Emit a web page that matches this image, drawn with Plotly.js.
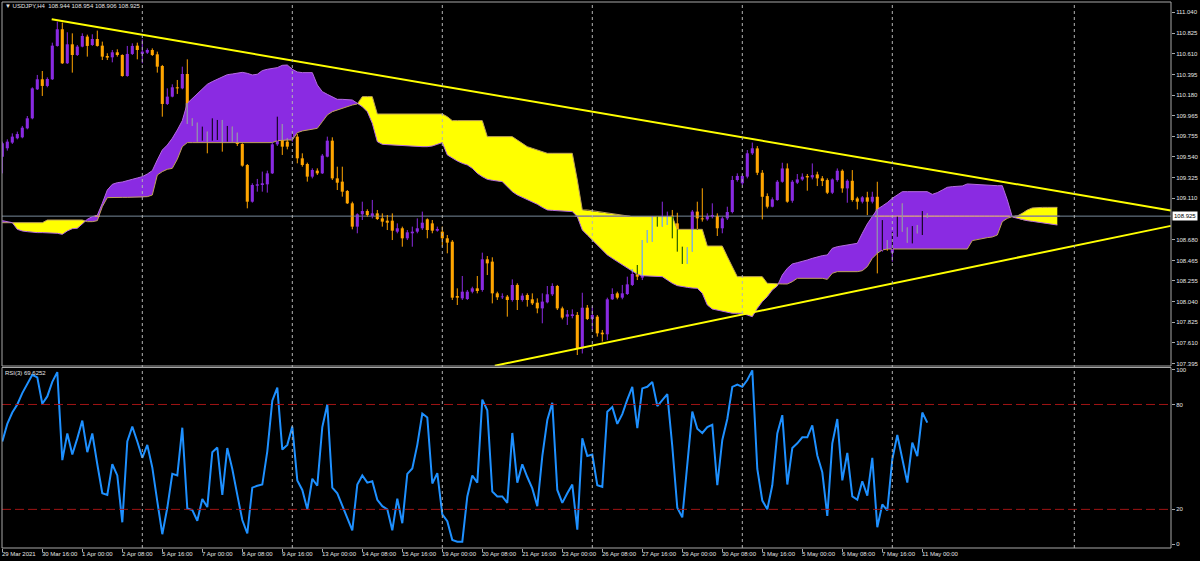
<!DOCTYPE html>
<html><head><meta charset="utf-8">
<script src="https://cdn.plot.ly/plotly-3.0.1.min.js"></script>
<style>html,body{margin:0;padding:0;background:#000;}#chart{width:1200px;height:561px;}</style>
</head><body><div id="chart"></div>
<script>
// ---------- DATA ----------
const titleText = '\u25BC USDJPY,H4  108.944 108.954 108.906 108.925';
const rsiTitle = 'RSI(3) 69.6252';
const bidPrice = 108.925;

const dateLabels = ['29 Mar 2021','30 Mar 16:00','1 Apr 00:00','2 Apr 08:00','5 Apr 16:00','7 Apr 00:00','8 Apr 08:00','9 Apr 16:00','13 Apr 00:00','14 Apr 08:00','15 Apr 16:00','19 Apr 00:00','20 Apr 08:00','21 Apr 16:00','23 Apr 00:00','26 Apr 08:00','27 Apr 16:00','29 Apr 00:00','30 Apr 08:00','3 May 16:00','5 May 00:00','6 May 08:00','7 May 16:00','11 May 00:00'];
const barsPerLabel = 8;

const priceTicks = [111.040,110.825,110.610,110.395,110.180,109.965,109.755,109.540,109.325,109.110,108.680,108.465,108.255,108.040,107.825,107.610,107.395];
const rsiTicks = [0,20,80,100];
const rsiLevels = [20,80];
const gridBars = [28,58,88,118,148,178,214.4];

const upperTrendX = [9.88,233.7], upperTrendY = [110.967,108.983];
const lowerTrendX = [98.5,233.7], lowerTrendY = [107.373,108.824];

const open = [109.542,109.629,109.688,109.733,109.743,109.836,109.940,110.241,110.345,110.276,
110.345,110.691,110.864,110.511,110.708,110.597,110.684,110.788,110.701,110.763,
110.694,110.587,110.573,110.625,110.597,110.379,110.608,110.694,110.608,110.621,
110.649,110.604,110.483,110.089,110.165,110.262,110.251,110.400,109.905,109.881,
109.715,109.767,109.715,109.854,109.871,109.715,109.843,109.777,109.674,109.456,
109.075,109.241,109.248,109.255,109.369,109.670,109.871,109.698,109.715,109.750,
109.525,109.466,109.335,109.397,109.369,109.542,109.708,109.317,109.283,109.186,
109.058,108.816,108.944,108.978,108.927,108.954,108.902,108.878,108.878,108.764,
108.799,108.695,108.747,108.764,108.799,108.892,108.850,108.774,108.764,108.695,
108.660,108.096,108.072,108.065,108.141,108.176,108.159,108.477,108.453,108.124,
108.083,108.090,108.055,108.211,108.055,108.107,108.062,108.027,107.968,108.031,
108.114,108.200,107.968,107.882,107.889,107.900,107.550,107.975,107.858,107.882,
107.716,107.699,108.062,108.124,108.079,108.117,108.211,108.339,108.287,108.671,
108.705,108.902,108.844,108.850,108.930,108.850,108.581,108.446,108.574,108.972,
108.902,108.892,108.920,108.927,108.799,108.902,108.968,109.300,109.266,109.335,
109.577,109.628,109.375,109.133,109.023,109.092,109.282,109.420,109.085,109.272,
109.306,109.341,109.327,109.358,109.317,109.299,109.168,109.299,109.396,109.213,
109.292,109.109,109.075,109.120,109.075,109.126,108.573,108.659,108.545,108.729,
108.850,108.787,108.694,108.815,108.798,108.944];

const high = [109.698,109.722,109.784,109.802,109.861,109.964,110.262,110.390,110.431,110.365,
110.725,110.943,110.933,110.833,110.822,110.701,110.822,110.808,110.812,110.850,
110.736,110.615,110.649,110.656,110.604,110.691,110.718,110.725,110.760,110.666,
110.666,110.632,110.494,110.251,110.293,110.338,110.476,110.552,109.940,109.895,
109.854,109.802,109.940,109.923,109.923,109.861,109.854,109.791,109.681,109.466,
109.266,109.311,109.387,109.397,109.688,109.957,109.881,109.733,109.784,109.777,
109.577,109.480,109.421,109.421,109.570,109.750,109.743,109.438,109.438,109.196,
109.075,108.954,109.075,108.996,109.093,108.989,108.954,108.937,108.954,108.850,
108.816,108.781,108.816,108.902,108.972,108.902,108.885,108.816,108.816,108.729,
108.677,108.176,108.304,108.159,108.193,108.304,108.546,108.511,108.498,108.141,
108.124,108.107,108.269,108.228,108.124,108.124,108.124,108.072,108.124,108.200,
108.228,108.211,107.986,107.951,107.958,107.930,108.130,108.003,107.986,107.899,
107.744,108.079,108.176,108.141,108.211,108.297,108.373,108.418,108.677,108.781,
108.927,108.920,109.075,108.972,108.989,108.960,108.608,108.601,108.989,109.075,
109.214,108.954,109.058,108.954,108.920,109.023,109.342,109.369,109.362,109.611,
109.688,109.652,109.403,109.161,109.120,109.299,109.479,109.472,109.299,109.362,
109.369,109.362,109.472,109.386,109.341,109.317,109.317,109.420,109.410,109.306,
109.403,109.126,109.133,109.178,109.178,109.282,108.884,108.677,108.763,108.919,
109.057,108.808,108.822,108.832,108.978,108.954];

const low = [109.369,109.605,109.674,109.722,109.733,109.826,109.930,110.234,110.172,110.262,
110.338,110.684,110.504,110.504,110.414,110.587,110.677,110.580,110.691,110.684,
110.545,110.545,110.521,110.580,110.372,110.372,110.597,110.552,110.511,110.608,
110.587,110.414,109.957,110.078,110.158,110.193,110.241,109.881,109.861,109.698,
109.708,109.577,109.708,109.715,109.594,109.698,109.698,109.653,109.438,109.006,
109.065,109.179,109.179,109.169,109.362,109.653,109.560,109.618,109.698,109.473,
109.438,109.283,109.317,109.352,109.362,109.535,109.300,109.196,109.127,109.051,
108.788,108.747,108.885,108.920,108.902,108.885,108.816,108.781,108.677,108.747,
108.608,108.677,108.608,108.747,108.781,108.695,108.747,108.764,108.608,108.539,
108.055,108.003,108.055,108.055,108.124,108.124,108.141,108.314,108.020,108.055,
108.065,107.882,108.038,107.951,108.038,107.986,108.003,107.917,107.813,108.020,
108.096,107.951,107.854,107.796,107.865,107.484,107.500,107.847,107.744,107.675,
107.623,107.640,108.055,108.062,108.062,108.107,108.200,108.262,108.262,108.650,
108.660,108.816,108.816,108.833,108.695,108.557,108.429,108.429,108.557,108.781,
108.868,108.878,108.902,108.719,108.747,108.885,108.954,109.283,109.248,109.317,
109.560,109.351,108.891,109.005,109.016,109.085,109.272,109.064,109.064,109.258,
109.292,109.189,109.306,109.237,109.237,109.154,109.154,109.282,109.168,109.064,
109.075,108.995,109.057,108.936,109.057,108.331,108.556,108.566,108.452,108.711,
108.763,108.649,108.642,108.746,108.729,108.906];

const close = [109.681,109.698,109.750,109.777,109.843,109.940,110.251,110.345,110.276,110.348,
110.694,110.864,110.511,110.708,110.597,110.684,110.794,110.691,110.763,110.691,
110.580,110.570,110.625,110.597,110.379,110.608,110.691,110.649,110.632,110.649,
110.597,110.476,110.089,110.165,110.262,110.251,110.400,109.895,109.878,109.715,
109.826,109.715,109.854,109.871,109.715,109.843,109.715,109.674,109.449,109.075,
109.248,109.255,109.266,109.369,109.670,109.871,109.646,109.646,109.760,109.525,
109.456,109.335,109.404,109.369,109.553,109.708,109.317,109.272,109.179,109.058,
108.816,108.944,108.978,108.937,108.954,108.895,108.868,108.857,108.774,108.799,
108.695,108.757,108.764,108.799,108.857,108.781,108.774,108.792,108.695,108.650,
108.079,108.079,108.141,108.141,108.176,108.148,108.477,108.435,108.124,108.083,
108.090,108.055,108.211,108.055,108.100,108.055,108.020,107.968,108.038,108.114,
108.200,107.968,107.872,107.906,107.906,107.550,107.975,107.858,107.899,107.709,
107.699,108.062,108.117,108.079,108.124,108.217,108.325,108.297,108.660,108.712,
108.902,108.850,108.902,108.920,108.850,108.574,108.446,108.581,108.972,108.902,
108.892,108.927,108.937,108.799,108.902,108.968,109.300,109.342,109.342,109.577,
109.629,109.375,109.126,109.023,109.099,109.282,109.420,109.075,109.282,109.306,
109.334,109.327,109.351,109.317,109.289,109.168,109.306,109.396,109.213,109.292,
109.092,109.075,109.120,109.075,109.126,108.573,108.659,108.590,108.746,108.850,
108.781,108.694,108.798,108.781,108.936,108.925];

const rsi = [58.8,68.9,75.4,80.0,86.5,92.0,97.0,95.5,80.4,84.6,
92.9,98.5,48.2,63.4,51.4,60.6,70.8,52.7,63.4,45.8,
29.2,28.3,45.8,39.4,12.6,58.8,67.4,58.8,49.5,56.9,
44.0,24.6,5.8,20.9,40.3,39.4,66.7,20.5,19.6,13.5,
25.9,21.3,52.7,55.4,28.3,55.1,43.1,28.3,13.9,6.2,
32.4,33.5,34.2,53.2,82.2,89.6,54.2,56.9,67.4,36.6,
31.1,20.0,37.5,33.5,67.1,80.0,32.4,29.2,21.8,15.4,
8.0,34.2,39.4,35.3,36.1,25.5,21.8,20.0,8.0,26.1,
12.1,40.3,43.4,56.9,74.8,72.6,34.8,40.7,17.2,13.2,
2.5,1.5,1.5,27.4,39.4,35.3,82.8,76.7,30.2,27.4,
27.4,23.7,63.7,35.3,45.8,38.5,32.0,21.8,50.5,71.1,
80.9,31.1,23.7,29.2,34.2,8.4,60.6,50.5,51.4,33.8,
32.9,75.9,78.5,68.9,74.5,82.8,90.1,66.5,89.2,90.1,
92.9,79.1,82.8,85.9,56.0,20.9,15.4,44.9,75.9,66.1,
63.7,67.1,68.4,33.8,59.7,71.7,90.1,91.4,90.1,94.0,
99.5,43.1,25.0,20.0,33.8,63.4,73.9,34.2,55.1,57.8,
61.2,61.2,68.0,50.8,41.2,16.3,57.8,71.7,36.6,52.3,
27.4,25.5,36.1,27.9,49.5,9.8,22.8,19.4,48.6,62.5,
48.6,35.3,58.2,50.5,75.4,69.6];

// Ichimoku cloud as displayed (already shifted forward), one value per bar
const spanA = [108.878,108.871,108.857,108.788,108.771,108.764,108.757,108.754,108.754,108.754,
108.747,108.747,108.736,108.771,108.795,108.799,108.844,108.892,108.920,108.933,
109.058,109.196,109.255,109.272,109.279,109.290,109.307,109.321,109.335,109.362,
109.397,109.508,109.611,109.663,109.733,109.819,109.916,110.096,110.148,110.199,
110.251,110.293,110.321,110.345,110.372,110.393,110.400,110.407,110.417,110.407,
110.390,110.397,110.435,110.449,110.455,110.466,110.490,110.493,110.449,110.421,
110.414,110.414,110.414,110.286,110.217,110.189,110.165,110.137,110.137,110.137,
110.130,110.096,110.061,110.009,109.888,109.698,109.670,109.667,109.663,109.663,
109.660,109.656,109.653,109.650,109.646,109.646,109.653,109.670,109.688,109.560,
109.525,109.497,109.473,109.456,109.421,109.369,109.335,109.307,109.297,109.290,
109.283,109.231,109.179,109.144,109.120,109.093,109.075,109.048,109.016,108.989,
108.985,108.982,108.978,108.975,108.972,108.920,108.781,108.729,108.677,108.626,
108.574,108.522,108.487,108.453,108.418,108.383,108.349,108.321,108.307,108.304,
108.300,108.297,108.297,108.262,108.228,108.204,108.193,108.186,108.179,108.176,
108.124,108.003,107.961,107.951,107.941,107.930,107.917,107.917,107.917,107.899,
107.882,107.968,108.038,108.090,108.159,108.200,108.314,108.383,108.429,108.442,
108.453,108.470,108.487,108.505,108.515,108.522,108.591,108.608,108.615,108.622,
108.633,108.643,108.747,108.844,108.920,108.996,109.030,109.065,109.110,109.144,
109.179,109.179,109.179,109.179,109.179,109.179,109.151,109.169,109.196,109.224,
109.231,109.231,109.238,109.259,109.255,109.252,109.248,109.245,109.245,109.241,
109.241,109.093,108.916,108.902,108.885,108.878,108.871,108.864,108.857,108.850,
108.840,108.833];

const spanB = [108.857,108.857,108.857,108.857,108.857,108.857,108.857,108.857,108.857,108.885,
108.885,108.885,108.885,108.885,108.885,108.885,108.885,108.868,108.868,108.878,
109.023,109.117,109.120,109.120,109.120,109.120,109.120,109.120,109.120,109.127,
109.144,109.352,109.387,109.411,109.421,109.515,109.646,109.688,109.688,109.688,
109.688,109.688,109.688,109.688,109.688,109.688,109.688,109.688,109.688,109.688,
109.688,109.688,109.688,109.688,109.688,109.708,109.715,109.715,109.715,109.791,
109.809,109.819,109.826,109.836,109.905,109.975,110.009,110.027,110.044,110.061,
110.078,110.089,110.165,110.165,110.165,109.985,109.985,109.985,109.985,109.985,
109.985,109.985,109.985,109.985,109.985,109.985,109.985,109.985,109.985,109.957,
109.916,109.916,109.916,109.916,109.916,109.916,109.916,109.750,109.750,109.750,
109.750,109.750,109.750,109.715,109.681,109.646,109.629,109.611,109.594,109.577,
109.577,109.577,109.577,109.577,109.577,109.300,108.989,108.989,108.982,108.972,
108.961,108.954,108.947,108.940,108.933,108.927,108.920,108.920,108.920,108.920,
108.920,108.920,108.920,108.920,108.920,108.788,108.788,108.788,108.788,108.788,
108.788,108.615,108.615,108.615,108.615,108.505,108.401,108.297,108.297,108.297,
108.297,108.297,108.297,108.228,108.224,108.221,108.221,108.221,108.245,108.280,
108.280,108.280,108.280,108.280,108.280,108.269,108.332,108.349,108.349,108.349,
108.349,108.349,108.359,108.401,108.487,108.539,108.574,108.584,108.584,108.584,
108.584,108.584,108.584,108.584,108.584,108.584,108.584,108.584,108.584,108.584,
108.584,108.584,108.584,108.584,108.671,108.684,108.695,108.702,108.709,108.729,
108.868,108.902,108.920,108.927,108.954,108.989,109.010,109.016,109.016,109.016,
109.016,109.016];

// ---------- STYLE ----------
const FONT = 'Liberation Sans, Arial, sans-serif';
const TXT = '#E4E4E4';
const BORDER = '#A8A8A8';
const C_BULL = '#8A2BE2', C_BEAR = '#FFA500';
const C_CLOUD_UP = '#8A2BE2', C_CLOUD_DN = '#FFFF00';
// colours produced where a mark is XOR-drawn over the cloud
const XOR = {bullP:'#000000', bearP:'#7586E2', bullY:'#75D4E2', bearY:'#005A00'};
const BID = '#778899', BID_XOR_P = '#FDA37B', BID_XOR_Y = '#887799';

const traces = [];

// ---------- CLOUD ----------
function cloudRuns(A, B){
  const runs = []; let cur = null;
  for (let i = 0; i < A.length; i++){
    const up = A[i] >= B[i];
    if (cur && cur.up !== up){
      const d0 = A[i-1]-B[i-1], d1 = A[i]-B[i];
      const t = d0/(d0-d1), xc = i-1+t, yc = A[i-1]+(A[i]-A[i-1])*t;
      cur.xs.push(xc); cur.ta.push(yc); cur.tb.push(yc);
      runs.push(cur);
      cur = {up, xs:[xc], ta:[yc], tb:[yc]};
    }
    if (!cur) cur = {up, xs:[], ta:[], tb:[]};
    cur.xs.push(i); cur.ta.push(spanA[i]); cur.tb.push(spanB[i]);
  }
  runs.push(cur);
  return runs;
}
cloudRuns(spanA, spanB).forEach(r => {
  traces.push({type:'scatter', mode:'lines', xaxis:'x', yaxis:'y', hoverinfo:'skip',
    x: r.xs.concat(r.xs.slice().reverse()),
    y: r.ta.concat(r.tb.slice().reverse()),
    fill:'toself', fillcolor: r.up ? C_CLOUD_UP : C_CLOUD_DN,
    line:{width:0, color:'rgba(0,0,0,0)'}});
});
const idx = spanA.map((_, i) => i);
traces.push({type:'scatter', mode:'lines', x:idx, y:spanB, xaxis:'x', yaxis:'y', hoverinfo:'skip', line:{color:'#BFA25A', width:1}});
traces.push({type:'scatter', mode:'lines', x:idx, y:spanA, xaxis:'x', yaxis:'y', hoverinfo:'skip', line:{color:'#B56BE0', width:1}});

// ---------- BID LINE ----------
const xMin = -0.06, xMax = 233.74;
traces.push({type:'scatter', mode:'lines', x:[xMin, xMax], y:[bidPrice, bidPrice], xaxis:'x', yaxis:'y', hoverinfo:'skip', line:{color:BID, width:1}});
['P','Y'].forEach(k => {
  const xs = [], ys = [];
  for (let i = 0; i < spanA.length; i++){
    const lo = Math.min(spanA[i], spanB[i]), hi = Math.max(spanA[i], spanB[i]);
    const kk = spanA[i] >= spanB[i] ? 'P' : 'Y';
    if (kk === k && bidPrice > lo && bidPrice < hi){ xs.push(i-0.5, i+0.5, null); ys.push(bidPrice, bidPrice, null); }
  }
  traces.push({type:'scatter', mode:'lines', x:xs, y:ys, xaxis:'x', yaxis:'y', hoverinfo:'skip', line:{color: k==='P' ? BID_XOR_P : BID_XOR_Y, width:1}});
});

// ---------- CANDLES ----------
const bodies = {}, wicks = {};
function addBody(k, x, lo, hi){ const b = bodies[k] || (bodies[k] = {x:[], base:[], h:[]}); b.x.push(x); b.base.push(lo); b.h.push(Math.max(hi-lo, 0.009)); }
function addWick(k, x, lo, hi){ const w = wicks[k] || (wicks[k] = {x:[], y:[]}); w.x.push(x, x, null); w.y.push(lo, hi, null); }
for (let i = 0; i < close.length; i++){
  const bull = close[i] >= open[i];
  const k = bull ? 'bull' : 'bear';
  const bLo = Math.min(open[i], close[i]), bHi = Math.max(open[i], close[i]);
  addWick(k, i, low[i], high[i]);
  addBody(k, i, bLo, bHi);
  const cLo = Math.min(spanA[i], spanB[i]), cHi = Math.max(spanA[i], spanB[i]);
  const ck = k + (spanA[i] >= spanB[i] ? 'P' : 'Y');
  const wl = Math.max(low[i], cLo), wh = Math.min(high[i], cHi);
  if (wh > wl) addWick(ck, i, wl, wh);
  const bl = Math.max(bLo, cLo), bh = Math.min(bHi, cHi);
  if (bh > bl) addBody(ck, i, bl, bh);
}
const colorOf = k => ({bull:C_BULL, bear:C_BEAR})[k] || XOR[k];
const order = ['bull','bear'];
const xorOrder = ['bullP','bearP','bullY','bearY'];
function pushWick(k){ if (wicks[k]) traces.push({type:'scatter', mode:'lines', x:wicks[k].x, y:wicks[k].y, xaxis:'x', yaxis:'y', hoverinfo:'skip', line:{color:colorOf(k), width:1}}); }
function pushBody(k){ if (bodies[k]) traces.push({type:'bar', x:bodies[k].x, y:bodies[k].h, base:bodies[k].base, width:0.62, xaxis:'x', yaxis:'y', hoverinfo:'skip', marker:{color:colorOf(k), line:{width:0}}}); }
order.forEach(pushWick); order.forEach(pushBody);
xorOrder.forEach(pushWick); xorOrder.forEach(pushBody);

// ---------- TREND LINES ----------
traces.push({type:'scatter', mode:'lines', x:upperTrendX, y:upperTrendY, xaxis:'x', yaxis:'y', hoverinfo:'skip', line:{color:'#FFFF00', width:2}});
traces.push({type:'scatter', mode:'lines', x:lowerTrendX, y:lowerTrendY, xaxis:'x', yaxis:'y', hoverinfo:'skip', line:{color:'#FFFF00', width:2}});

// ---------- RSI ----------
traces.push({type:'scatter', mode:'lines', x:rsi.map((_, i) => i), y:rsi, xaxis:'x', yaxis:'y2', hoverinfo:'skip', line:{color:'#1E90FF', width:2}});

// ---------- LAYOUT ----------
const H = 561, T = 2, B = 13, plotH = H - T - B;
const py = p => (H - B - p) / plotH;           // pixel row -> paper y
const mainBottomPx = 366, rsiTopPx = 367.5;

const shapes = [];
gridBars.forEach(g => shapes.push({type:'line', xref:'x', yref:'paper', x0:g, x1:g, y0:0, y1:1, line:{color:'#B4B4B4', width:1, dash:'dot'}}));
rsiLevels.forEach(l => shapes.push({type:'line', xref:'paper', yref:'y2', x0:0, x1:1, y0:l, y1:l, line:{color:'#A01414', width:1, dash:'9px,4px'}}));
shapes.push({type:'rect', xref:'paper', yref:'paper', x0:0, x1:1, y0:py(mainBottomPx), y1:1, line:{color:BORDER, width:1}});
shapes.push({type:'rect', xref:'paper', yref:'paper', x0:0, x1:1, y0:0, y1:py(rsiTopPx), line:{color:BORDER, width:1}});

const tickFont = {family:FONT, size:6, color:TXT};
const annotations = [];
dateLabels.forEach((t, k) => annotations.push({text:t, xref:'x', yref:'paper', x:k*barsPerLabel, y:py(554), xanchor:'left', yanchor:'middle', xshift:-2, showarrow:false, font:tickFont}));
annotations.push({text:titleText, xref:'paper', yref:'paper', x:0, y:py(6), xanchor:'left', yanchor:'middle', xshift:1, showarrow:false, font:tickFont});
annotations.push({text:rsiTitle, xref:'paper', yref:'paper', x:0, y:py(372.5), xanchor:'left', yanchor:'middle', xshift:1, showarrow:false, font:tickFont});
annotations.push({text:bidPrice.toFixed(3), xref:'paper', yref:'y', x:1, y:bidPrice, xanchor:'left', yanchor:'middle', xshift:1, showarrow:false, bgcolor:'#FFFFFF', borderpad:1, font:{family:FONT, size:6, color:'#000000'}});

const layout = {
  width:1200, height:H, paper_bgcolor:'#000000', plot_bgcolor:'#000000',
  margin:{l:2, r:29, t:T, b:B}, showlegend:false, barmode:'overlay', hovermode:false,
  xaxis:{range:[xMin, xMax], anchor:'y2', showgrid:false, zeroline:false, showline:false,
    tickvals:dateLabels.map((_, k) => k*barsPerLabel), ticks:'outside', ticklen:3, tickcolor:BORDER, showticklabels:false, fixedrange:true},
  yaxis:{domain:[py(mainBottomPx), 1], range:[107.370, 111.147], side:'right', anchor:'x',
    tickvals:priceTicks, ticktext:priceTicks.map(v => v.toFixed(3)), ticks:'outside', ticklen:3, tickcolor:BORDER,
    tickfont:tickFont, showgrid:false, zeroline:false, showline:false, fixedrange:true},
  yaxis2:{domain:[0, py(rsiTopPx)], range:[-2.1, 101.15], side:'right', anchor:'x',
    tickvals:rsiTicks, ticktext:rsiTicks.map(String), ticks:'outside', ticklen:3, tickcolor:BORDER,
    tickfont:tickFont, showgrid:false, zeroline:false, showline:false, fixedrange:true},
  shapes, annotations
};
Plotly.newPlot('chart', traces, layout, {staticPlot:true, displayModeBar:false});
</script></body></html>
